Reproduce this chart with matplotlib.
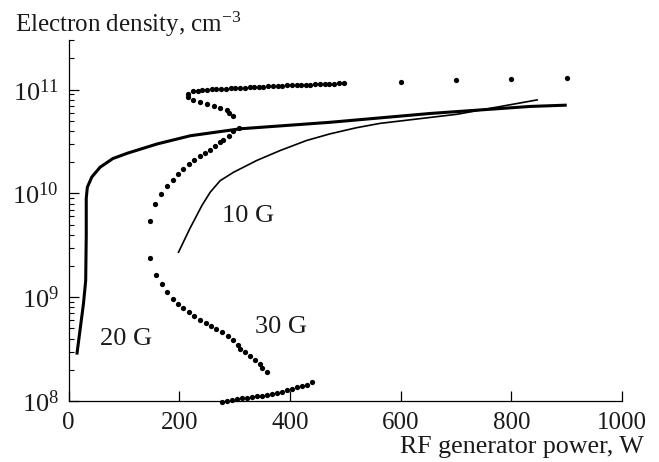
import numpy as np
import matplotlib
matplotlib.use("Agg")
import matplotlib.pyplot as plt

plt.rcParams['font.family'] = ['Liberation Serif', 'DejaVu Serif']
plt.rcParams['mathtext.fontset'] = 'custom'
plt.rcParams['mathtext.rm'] = 'Liberation Serif'
plt.rcParams['mathtext.it'] = 'Liberation Serif:italic'

# 20 G - thick solid line
p20 = [15, 27, 31, 32, 32, 34, 42, 57, 80, 107, 160, 220, 310, 472, 653, 834, 900]
n20 = [2.8e8, 8.7e8, 1.45e9, 4.0e9, 9.0e9, 1.15e10, 1.44e10, 1.79e10, 2.17e10,
       2.45e10, 3.0e10, 3.6e10, 4.2e10, 4.85e10, 5.9e10, 6.9e10, 7.1e10]

# 10 G - thin solid line
p10 = [198, 219, 241, 256, 274, 298, 340, 382, 430, 472, 520, 563, 702, 848]
n10 = [2.67e9, 4.57e9, 7.67e9, 1.03e10, 1.33e10, 1.6e10, 2.08e10, 2.59e10,
       3.24e10, 3.75e10, 4.3e10, 4.74e10, 5.8e10, 8.0e10]

# 30 G - dots, lower branch
p30_low = [277, 286, 295, 304, 313, 322, 331, 340, 349, 358, 367, 376, 385,
           394, 403, 412, 421, 430, 439]
n30_low = [0.97e8, 1.00e8, 1.02e8, 1.05e8, 1.066e8, 1.081e8, 1.095e8, 1.11e8,
           1.13e8, 1.15e8, 1.178e8, 1.204e8, 1.234e8, 1.27e8, 1.316e8, 1.36e8,
           1.40e8, 1.43e8, 1.53e8]

# 30 G - dots, descending middle branch
p30_mid = [147, 158, 168, 177, 188, 197, 207, 218, 227, 237, 248, 257, 267,
           278, 288, 298, 307, 310, 319, 328, 337, 346, 349, 358]
n30_mid = [2.41e9, 1.65e9, 1.33e9, 1.125e9, 9.7e8, 8.7e8, 7.9e8, 7.2e8, 6.6e8,
           6.1e8, 5.7e8, 5.3e8, 4.95e8, 4.6e8, 4.26e8, 3.9e8, 3.45e8, 3.2e8,
           2.98e8, 2.71e8, 2.48e8, 2.25e8, 2.06e8, 1.91e8]

# 30 G - dots, rising branch
p30_rise = [148, 157, 167, 177, 188, 198, 207, 218, 227, 237, 246, 256, 265,
            274, 279, 289, 298, 308]
n30_rise = [5.4e9, 8.0e9, 9.9e9, 1.18e10, 1.36e10, 1.55e10, 1.73e10, 1.93e10,
            2.11e10, 2.32e10, 2.45e10, 2.63e10, 2.89e10, 3.11e10, 3.3e10,
            3.61e10, 3.97e10, 4.29e10]

# 30 G - dots, upper turn
p30_turn = [298, 290, 286, 274, 262, 250, 238, 225, 216, 216]
n30_turn = [5.62e10, 5.92e10, 6.38e10, 6.67e10, 7.02e10, 7.29e10, 7.55e10,
            7.96e10, 8.43e10, 9.1e10]

# 30 G - dots, upper branch
p30_top = [225, 233, 242, 250, 259, 267, 276, 284, 293, 301, 310, 318, 327,
           335, 344, 352, 361, 369, 378, 386, 395, 403, 412, 420, 429, 437,
           446, 454, 463, 471, 480, 488, 497, 600, 700, 800, 900]
n30_top = [9.64e10, 9.73e10, 9.85e10, 9.95e10, 10.05e10, 10.12e10, 10.19e10,
           10.26e10, 10.32e10, 10.38e10, 10.44e10, 10.50e10, 10.55e10,
           10.61e10, 10.66e10, 10.72e10, 10.78e10, 10.84e10, 10.89e10,
           10.94e10, 10.99e10, 11.04e10, 11.08e10, 11.12e10, 11.17e10,
           11.22e10, 11.26e10, 11.31e10, 11.35e10, 11.40e10, 11.44e10,
           11.48e10, 11.52e10, 11.9e10, 12.3e10, 12.7e10, 13.0e10]

labels = ["10 G", "20 G", "30 G"]
label_pos = [(277, 5.3e9), (57, 3.5e8), (337, 4.5e8)]

txt_color = '#1a1a1a'

fig = plt.figure(figsize=(6.59, 4.62), dpi=100)
ax = fig.add_axes([0.104, 0.132, 0.84, 0.781])

ax.plot(p20, n20, color='black', lw=2.2, solid_capstyle='butt', solid_joinstyle='round')
ax.plot(p10, n10, color='black', lw=1.2, solid_capstyle='butt', solid_joinstyle='round')
for px, ny in [(p30_low, n30_low), (p30_mid, n30_mid), (p30_rise, n30_rise),
               (p30_turn, n30_turn), (p30_top, n30_top)]:
    ax.plot(px, ny, 'o', color='black', ms=3.8, mew=0, clip_on=False)

for txt, (x, y) in zip(labels, label_pos):
    ax.text(x, y, txt, fontsize=19, ha='left', va='baseline', color=txt_color)

ax.set_yscale('log')
ax.set_xlim(0, 1000)
ax.set_ylim(1e8, 3e11)
ax.set_xticks([0, 200, 400, 600, 800, 1000])
ax.set_yticks([1e8, 1e9, 1e10, 1e11])
ax.minorticks_on()
ax.xaxis.set_minor_locator(matplotlib.ticker.NullLocator())

ax.spines['top'].set_visible(False)
ax.spines['right'].set_visible(False)
for s in ['left', 'bottom']:
    ax.spines[s].set_linewidth(0.9)
ax.tick_params(axis='both', which='major', direction='in', length=7,
               width=0.9, labelsize=18, colors='black', labelcolor=txt_color)
ax.tick_params(axis='x', pad=8)
ax.tick_params(axis='y', pad=7, labelsize=19)
ax.tick_params(axis='y', which='minor', direction='in', length=3.6, width=0.8)

fig.text(15 / 659, 1 - 32 / 462, "Electron density, cm$^{-3}$", fontsize=18,
         ha='left', va='baseline', color=txt_color)
fig.text(644 / 659, 1 - 453 / 462, "RF generator power, W", fontsize=18.7,
         ha='right', va='baseline', color=txt_color)

fig.savefig('out.png', dpi=100)
